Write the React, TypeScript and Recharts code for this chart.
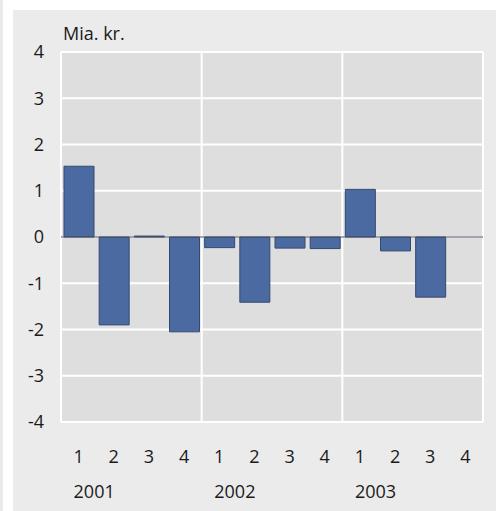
import React from 'react';
import { BarChart, Bar, XAxis, YAxis, CartesianGrid, ReferenceLine } from 'recharts';

// ── Data ──────────────────────────────────────────────────────────────────────

const quarters = ['1', '2', '3', '4', '1', '2', '3', '4', '1', '2', '3', '4'];
const years    = ['2001', '', '', '', '2002', '', '', '', '2003', '', '', ''];
const values: Array<number | null> = [1.53, -1.9, 0.02, -2.05, -0.23, -1.41, -0.24, -0.25, 1.03, -0.3, -1.3, null];
const yTicks   = [-4, -3, -2, -1, 0, 1, 2, 3, 4];
const yearEdges = [0, 4, 8, 12];   // quarter index where a year starts / ends

const data = quarters.map((q, i) => ({ key: `${i}`, q, year: years[i], v: values[i] }));

const FONT = "'Open Sans', sans-serif";
const INK = '#1a1a1a';
const FS = 18;

// ── Two-line category tick: quarter above, year below ─────────────────────────

function QuarterTick(props: any) {
  const { x, y, index } = props;
  const row = data[index];
  if (!row) return null;
  return (
    <g>
      <text x={x} y={y + 33} textAnchor="middle" fontFamily={FONT} fontSize={FS} fill={INK}>
        {row.q}
      </text>
      {row.year && (
        <text x={x - 5} y={y + 68} textAnchor="start" fontFamily={FONT} fontSize={FS} fill={INK}>
          {row.year}
        </text>
      )}
    </g>
  );
}

export default function App() {
  return (
    <div style={{ position: 'fixed', left: 0, top: 0, width: 499, height: 511, background: '#fff', overflow: 'hidden' }}>
      <div style={{ position: 'absolute', left: 0, top: 0, width: 3, height: 511, background: '#e9e9e9' }} />
      <div style={{ position: 'absolute', left: 13, top: 10, width: 483, height: 501, background: '#ebebeb' }} />
      <div style={{
        position: 'absolute', left: 63, top: 20, fontFamily: FONT, fontSize: FS, color: INK, lineHeight: '26px',
      }}>
        Mia. kr.
      </div>
      <div style={{ position: 'absolute', left: 0, top: 0 }}>
        <BarChart width={499} height={511} data={data} margin={{ top: 52, right: 16, bottom: 0, left: 11 }}>
          <CartesianGrid fill="#dedede" stroke="#ffffff" strokeWidth={2}
            verticalCoordinatesGenerator={({ offset }: any) =>
              yearEdges.map(e => offset.left + (offset.width * e) / quarters.length)} />
          <XAxis dataKey="key" height={89} axisLine={false} tickLine={false}
            interval={0} tick={<QuarterTick />} />
          <YAxis domain={[-4, 4]} ticks={yTicks} width={50} axisLine={false} tickLine={false}
            tickSize={0} tickMargin={17}
            tick={{ fontFamily: FONT, fontSize: FS, fill: INK }} />
          <Bar dataKey="v" fill="#4b6aa1" stroke="#34496f" strokeWidth={1}
            barSize={30} isAnimationActive={false} />
          <ReferenceLine y={0} stroke="#454c5c" strokeWidth={1.2} />
        </BarChart>
      </div>
    </div>
  );
}
